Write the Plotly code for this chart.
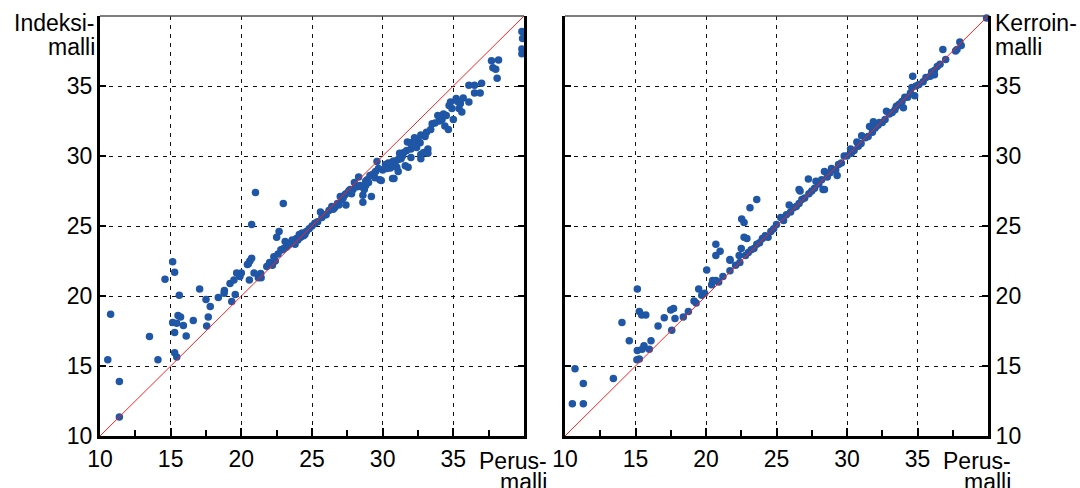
import plotly.graph_objects as go

# ---- data: left panel (Perusmalli vs Indeksimalli) ----
perus_left = [10.55,10.75,11.37,11.37,13.5,14.1,14.6,15.14,15.28,15.61,15.14,15.28,15.43,15.52,15.7,15.28,15.43,15.9,16.1,16.6,
 17.05,17.5,17.66,17.55,17.8,18.37,18.8,18.78,19.2,19.48,19.57,19.32,19.67,20.0,19.9,20.43,20.6,20.57,20.9,21.2,21.37,21.4,21.8,22.2,22.4,
 21.0,22.97,20.73,22.67,22.5,23.1,23.2,23.9,20.73,20.5,22.6,22.9,23.5,23.3,23.7,24.0,24.2,24.4,24.6,24.8,25.0,25.2,25.4,25.6,25.7,25.9,26.0,
 26.2,26.4,26.6,26.8,27.0,27.2,27.4,27.4,27.6,27.7,27.9,28.1,28.0,28.3,28.6,28.6,28.5,28.7,28.8,28.9,29.1,29.2,29.45,29.6,29.8,29.9,30.2,
 30.4,30.55,30.7,30.8,30.76,31.0,31.1,31.1,31.25,31.3,31.5,31.6,31.75,31.8,31.95,32.0,32.0,32.25,32.2,32.65,32.7,32.7,32.7,32.9,33.1,33.2,
 33.2,33.7,33.9,34.2,34.4,34.65,34.7,34.8,35.0,35.2,35.5,35.6,35.7,36.1,36.1,36.5,36.5,36.9,37.0,37.7,37.8,38.0,38.1,38.2,39.85,39.9,39.85,39.85,
 22.0,22.3,22.8,23.0,23.4,23.6,23.8,24.1,24.3,24.5,26.5,26.9,27.1,27.3,27.8,28.2,28.4,28.8,29.0,29.3,29.5,29.7,30.0,30.3,30.6,30.9,31.2,31.4,
 31.7,32.4,32.5,33.0,33.4,33.5,34.0,34.3,34.5,34.9,35.3,35.4]
indeksi = [15.45,18.7,13.9,11.35,17.1,15.45,21.2,22.45,21.7,20.05,18.1,17.4,18.05,18.6,18.5,15.95,15.65,17.9,17.15,18.25,
 20.5,19.75,18.5,17.85,19.25,19.9,20.4,20.2,20.9,21.15,20.1,19.6,21.65,21.65,21.4,22.25,22.5,21.15,21.65,21.3,21.6,21.3,22.1,22.2,22.5,
 27.4,26.6,25.1,24.6,24.2,23.9,23.5,24.1,22.7,22.3,23.0,23.3,23.8,23.6,23.9,24.0,24.2,24.3,24.6,24.8,25.0,25.2,25.3,26.0,25.6,25.8,25.8,
 26.1,26.4,26.3,26.6,27.1,27.0,26.5,27.3,27.5,27.6,27.6,27.9,28.1,28.5,26.7,27.2,27.8,27.6,27.9,28.3,28.6,27.1,28.45,29.6,28.3,28.25,29.4,
 29.5,29.15,28.4,28.4,29.65,29.2,28.9,29.75,30.05,29.8,30.25,29.3,31.0,29.2,30.95,29.9,30.5,31.3,30.8,30.95,31.5,30.1,29.8,30.25,31.7,30.5,
 30.2,32.35,32.9,32.6,32.15,31.9,33.6,33.85,32.6,34.1,33.75,33.15,34.15,33.85,35.05,35.05,34.5,34.5,35.2,36.8,36.3,36.2,35.55,36.85,38.9,38.4,37.65,37.3,
 22.4,22.8,23.3,23.4,23.7,24.0,23.7,24.4,24.5,24.4,26.2,26.5,26.9,27.2,27.3,27.8,27.9,28.2,28.1,28.7,28.9,29.1,29.0,29.1,29.5,29.6,30.2,30.0,
 30.4,30.6,31.2,31.4,31.9,32.3,32.5,33.0,32.9,33.4,33.9,33.4]

# ---- data: right panel (Perusmalli vs Kerroinmalli) ----
perus_right = [10.52,11.3,10.71,11.3,13.43,14.04,14.56,15.13,15.27,15.44,15.73,15.13,15.27,15.1,15.6,15.47,15.98,16.1,16.6,17.04,
 17.5,17.7,17.57,17.8,18.39,18.75,19.15,19.3,19.48,19.7,19.9,20.05,20.4,20.47,20.9,21.2,21.7,21.7,22.1,22.4,
 23.6,23.12,22.53,22.7,22.7,22.9,20.7,21.0,20.7,21.7,20.7,22.5,22.35,22.8,23.0,23.2,23.4,23.6,23.8,24.0,24.2,24.4,24.6,24.8,25.0,25.3,
 25.5,25.7,25.9,26.0,26.2,26.4,26.67,26.6,26.6,26.8,27.0,27.26,27.3,27.5,27.8,27.7,28.0,28.3,28.2,28.4,28.4,28.6,28.9,28.8,29.2,29.3,
 29.4,29.6,29.8,30.0,30.25,30.3,30.5,30.7,30.8,31.04,31.0,31.3,31.6,31.5,31.87,31.8,32.0,32.3,32.2,32.5,32.7,33.0,32.8,33.2,33.5,33.4,
 33.7,34.0,34.1,33.9,34.3,34.6,34.66,34.8,34.5,34.9,35.1,35.4,35.6,35.9,36.0,36.2,36.2,36.4,36.6,36.8,37.0,37.7,37.8,38.0,38.1,39.9]
kerroin = [12.3,12.3,14.8,13.75,14.1,18.1,16.8,20.5,18.9,18.65,18.65,16.1,15.5,15.45,16.45,16.2,16.2,16.8,17.85,18.45,
 19.0,19.1,17.55,18.4,18.5,18.9,19.65,19.5,20.5,20.05,20.2,21.85,20.8,21.1,21.0,21.4,21.8,22.6,22.2,22.4,
 26.9,26.3,25.5,25.25,24.2,24.1,23.7,23.2,22.9,22.55,21.1,23.4,22.9,22.9,23.1,23.3,23.4,23.7,23.8,24.1,24.3,24.2,24.6,24.8,25.1,25.6,
 25.4,25.8,26.5,26.0,26.3,26.4,27.5,26.6,27.6,26.9,27.0,28.35,27.3,27.5,28.2,27.7,28.0,27.6,28.3,28.9,27.6,28.5,29.1,28.8,29.0,28.6,
 29.4,29.5,30.0,30.0,30.5,30.2,30.4,31.0,30.7,31.45,30.9,31.3,32.1,31.4,32.45,31.7,32.0,32.4,32.2,32.4,32.6,33.0,33.2,33.1,33.55,33.3,
 33.7,33.45,34.2,33.9,34.2,34.9,35.7,34.3,34.5,35.0,35.1,35.3,35.6,35.7,36.0,36.1,35.8,36.4,36.55,37.6,36.9,37.5,37.6,38.15,37.9,39.85]

diag = [10, 40]
tick_vals = [10, 15, 20, 25, 30, 35]
tick_text = ["10", "15", "20", "25", "30", "35"]

FONT = "Liberation Sans, Arial, sans-serif"
FS = 23
BLUE = "#1f56a6"
W, H = 1080, 488

fig = go.Figure()
for xs, ys, ax in [(perus_left, indeksi, ""), (perus_right, kerroin, "2")]:
    fig.add_trace(go.Scatter(x=xs, y=ys, mode="markers", xaxis="x" + ax, yaxis="y" + ax,
                             marker=dict(color=BLUE, size=7.5, line=dict(width=0)),
                             cliponaxis=False, showlegend=False, hoverinfo="skip"))
    fig.add_trace(go.Scatter(x=diag, y=diag, mode="lines", xaxis="x" + ax, yaxis="y" + ax,
                             line=dict(color="#ff2020", width=1), showlegend=False, hoverinfo="skip"))

dom_l = [100 / W, 524 / W]
dom_r = [565 / W, 988 / W]
dom_y = [(H - 436) / H, (H - 16) / H]

grid = dict(showgrid=True, gridcolor="#111", gridwidth=1, griddash="4px,5px")
xcommon = dict(range=[10, 40], tickvals=tick_vals, ticktext=tick_text, ticks="inside", ticklen=8,
               tickwidth=2, tickcolor="black", showline=True, linewidth=3, linecolor="black",
               mirror=False, zeroline=False, automargin=False,
               minor=dict(dtick=2.5, tick0=10, ticks="inside", ticklen=6, tickwidth=2,
                          tickcolor="black", showgrid=False),
               tickfont=dict(family=FONT, size=FS, color="black"), **grid)
ycommon = dict(range=[10, 40], tickvals=tick_vals, ticktext=tick_text, ticks="inside", ticklen=6,
               tickwidth=2, tickcolor="black", showline=True, linewidth=3, linecolor="black",
               mirror="ticks", zeroline=False, automargin=False,
               tickfont=dict(family=FONT, size=FS, color="black"), **grid)

fig.update_layout(
    width=W, height=H, margin=dict(l=0, r=0, t=0, b=0, autoexpand=False),
    paper_bgcolor="white", plot_bgcolor="white",
    xaxis=dict(domain=dom_l, anchor="y", **xcommon),
    yaxis=dict(domain=dom_y, anchor="x", side="left", **ycommon),
    xaxis2=dict(domain=dom_r, anchor="y2", **xcommon),
    yaxis2=dict(domain=dom_y, anchor="x2", side="right", **ycommon),
)

# top borders (thin)
for ax in ["x", "x2"]:
    fig.add_shape(type="line", xref=ax + " domain", yref="paper", x0=0, x1=1,
                  y0=dom_y[1], y1=dom_y[1], line=dict(color="#555", width=1.5))

def ann(text, x, y, xanchor, yanchor="middle"):
    fig.add_annotation(text=text, x=x / W, y=1 - y / H, xref="paper", yref="paper",
                       xanchor=xanchor, yanchor=yanchor, showarrow=False,
                       font=dict(family=FONT, size=FS, color="black"))

ann("Indeksi-", 97, 23, "right")
ann("malli", 97, 47, "right")
ann("Kerroin-", 993, 23, "left")
ann("malli", 993, 47, "left")
ann("Perus-", 549, 461, "right")
ann("malli", 549, 482, "right")
ann("Perus-", 1013, 461, "right")
ann("malli", 1013, 482, "right")

fig.write_html("out.html", config={"displayModeBar": False},
               post_script="document.body.style.margin='0';document.body.style.overflow='hidden';")
